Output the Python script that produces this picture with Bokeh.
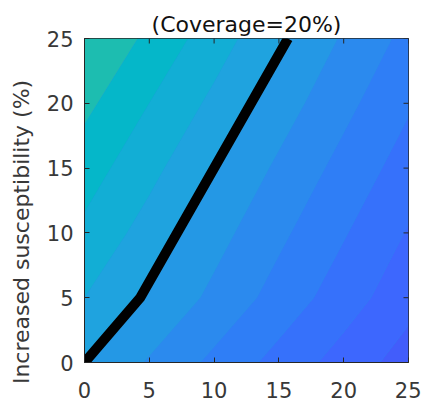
import numpy as np
from bokeh.plotting import figure
from bokeh.models import Range1d, FixedTicker
from bokeh.embed import file_html
from bokeh.resources import INLINE

# Grid of the surface
x_vals = [0, 5, 10, 15, 20, 25]
y_vals = [0, 5, 10, 15, 20, 25]

# surface values, one row per y value
z_y0 = [0.00, -1.10, -2.24, -3.35, -4.42, -5.45]
z_y5 = [1.00, -0.11, -1.24, -2.39, -3.52, -4.66]
z_y10 = [1.78, 0.59, -0.63, -1.79, -2.92, -4.08]
z_y15 = [2.48, 1.30, 0.03, -1.18, -2.33, -3.46]
z_y20 = [3.25, 2.00, 0.77, -0.52, -1.72, -2.88]
z_y25 = [4.05, 2.77, 1.49, 0.18, -1.12, -2.30]

levels = [-6, -5, -4, -3, -2, -1, 0, 1, 2, 3, 5]
band_colors = ["#425dfb", "#3d67fe", "#3671fb", "#2f7ef6", "#2b8aee",
               "#2498e5", "#1fa3df", "#12aed5", "#05b7c9", "#1dbdb0"]

# threshold curve (thick black line)
thr_x = [0, 4.3, 15.7]
thr_y = [0, 5, 25]

ticks = [0, 5, 10, 15, 20, 25]
title_text = "(Coverage=20%)"
y_label = "Increased susceptibility (%)"

z = np.array([z_y0, z_y5, z_y10, z_y15, z_y20, z_y25])

p = figure(width=421, height=403, x_range=Range1d(0, 25), y_range=Range1d(0, 25),
           output_backend="svg", toolbar_location=None,
           min_border_left=84, min_border_right=13, min_border_top=38, min_border_bottom=41)
p.background_fill_color = "#2a8ce8"
p.border_fill_color = "white"
p.outline_line_color = "#262626"
p.grid.visible = False

p.contour(x_vals, y_vals, z, levels, fill_color=band_colors)
p.line(thr_x, thr_y, line_color="black", line_width=10, line_join="miter")

# inward ticks on the top and right edges of the box
x_end = p.x_range.end
y_end = p.y_range.end
p.scatter(ticks, [y_end] * len(ticks), marker="dash", size=10, angle=np.pi / 2,
          line_color="#262626", line_width=1)
p.scatter([x_end] * len(ticks), ticks, marker="dash", size=10,
          line_color="#262626", line_width=1)

font = "DejaVu Sans"
for ax in (p.xaxis[0], p.yaxis[0]):
    ax.ticker = FixedTicker(ticks=ticks)
    ax.major_tick_in = 5
    ax.major_tick_out = 0
    ax.minor_tick_line_color = None
    ax.axis_line_color = "#262626"
    ax.major_tick_line_color = "#262626"
    ax.major_label_text_font = font
    ax.major_label_text_font_size = "21px"
    ax.major_label_text_color = "#383838"
p.yaxis.major_label_standoff = 11
p.xaxis.major_label_standoff = 19

# y label, shifted toward the bottom as in the reference
p.yaxis.axis_label = y_label + "\u00a0" * 9
p.yaxis.axis_label_text_font = font
p.yaxis.axis_label_text_font_size = "22px"
p.yaxis.axis_label_text_font_style = "normal"
p.yaxis.axis_label_text_color = "#383838"
p.yaxis.axis_label_standoff = 10

p.title.text = title_text
p.title.align = "center"
p.title.offset = 5
p.title.standoff = 4
p.title.text_font = font
p.title.text_font_size = "22px"
p.title.text_font_style = "normal"
p.title.text_color = "#111111"

open("out.html", "w").write(file_html(p, INLINE))
